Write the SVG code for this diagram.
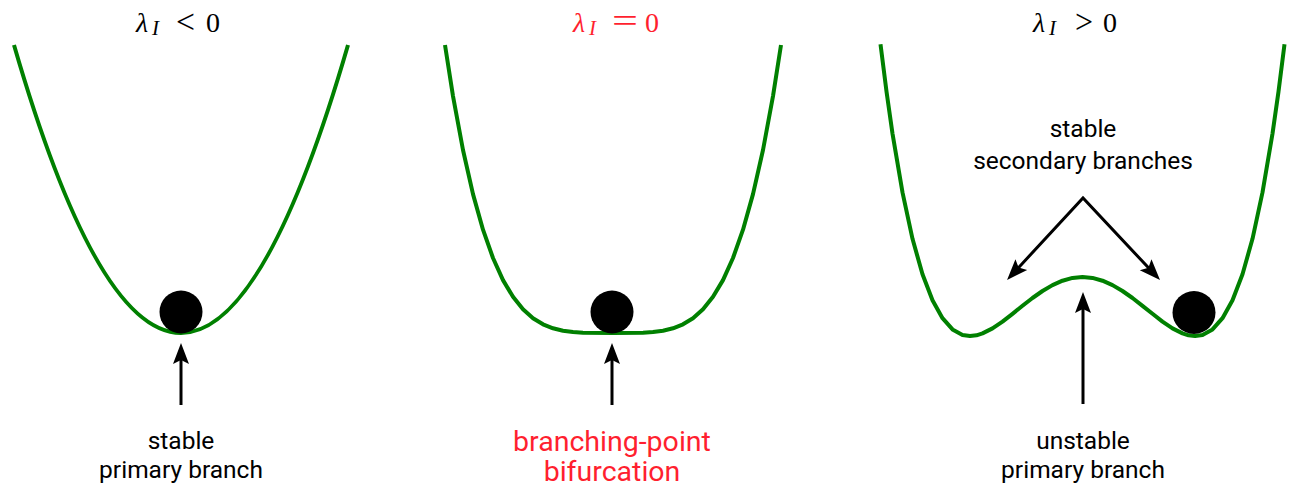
<svg xmlns="http://www.w3.org/2000/svg" width="1290" height="490" viewBox="0 0 1290 490">
<style>
.curve{fill:none;stroke:#008000;stroke-width:4;stroke-linejoin:round;stroke-linecap:butt}
.ball{fill:#000}
.arr{fill:none;stroke:#000;stroke-width:3;marker-end:url(#ah)}
.lbl{font-family:Roboto,"Open Sans",sans-serif;font-size:24.5px;fill:#000;text-anchor:middle}
.red{fill:#ff1f2f;font-size:28.5px}
.ttl{font-family:"Liberation Serif","DejaVu Serif",serif;font-size:28px;fill:#000}
.it{font-style:italic}
.sub{font-style:italic;font-size:21px}
.rel{font-size:34px}
.ttl.r{fill:#ff1f2f}
</style>
<defs>
<marker id="ah" markerUnits="userSpaceOnUse" viewBox="-10 -9 23 18" refX="0" refY="0" markerWidth="23" markerHeight="18" orient="auto-start-reverse">
<path d="M12,0 L-9,-8 L-5,0 L-9,8 Z" fill="#000"/>
</marker>
</defs>
<rect width="1290" height="490" fill="#fff"/>

<g id="panel1">
<text class="ttl it" x="136" y="32">λ</text>
<text class="ttl sub" x="152" y="35">I</text>
<text class="ttl rel" x="176" y="33" textLength="19" lengthAdjust="spacingAndGlyphs">&lt;</text>
<text class="ttl" x="206" y="32">0</text>
<path class="curve" d="M14,45 Q181,621 348,45"/>
<circle class="ball" cx="181" cy="312" r="21.5"/>
<text class="lbl" x="181" y="449">stable</text>
<text class="lbl" x="181" y="478">primary branch</text>
</g>

<g id="panel2">
<text class="ttl r it" x="573" y="32">λ</text>
<text class="ttl r sub" x="589" y="35">I</text>
<text class="ttl r rel" x="612" y="32" textLength="26" lengthAdjust="spacingAndGlyphs">=</text>
<text class="ttl r" x="645" y="32">0</text>
<polyline class="curve" points="445,45 453,96.1 463,150 473,194.1 483,229.7 493,258 503,280.1 513,296.8 523,309.3 533,318.2 543,324.3 553,328.3 563,330.7 573,332.1 583,332.7 613,333 643,332.7 653,332.1 663,330.7 673,328.3 683,324.3 693,318.2 703,309.3 713,296.8 723,280.1 733,258 743,229.7 753,194.1 763,150 773,96.1 781,45"/>
<circle class="ball" cx="612" cy="312" r="21.5"/>
<text class="lbl red" x="612" y="451">branching-point</text>
<text class="lbl red" x="612" y="481">bifurcation</text>
</g>

<g id="panel3">
<text class="ttl it" x="1033" y="32">λ</text>
<text class="ttl sub" x="1049" y="35">I</text>
<text class="ttl rel" x="1075" y="33" textLength="18" lengthAdjust="spacingAndGlyphs">&gt;</text>
<text class="ttl" x="1103" y="32">0</text>
<polyline class="curve" points="880.5,44.2 886.5,91.6 892.5,133.6 902.5,192.4 912.5,238.8 922.5,274.3 932.5,300.3 942.5,318.2 952.5,329.4 962.5,334.9 970,336 976.5,335.3 982.5,333.4 992.5,328.4 1002.5,321.6 1012.5,313.8 1022.5,305.8 1032.5,298 1042.5,291 1052.5,285.1 1062.5,280.7 1072.5,277.9 1082.5,277 1092.5,277.9 1102.5,280.7 1112.5,285.1 1122.5,291 1132.5,298 1142.5,305.8 1152.5,313.8 1162.5,321.6 1172.5,328.4 1182.5,333.4 1188.5,335.3 1195,336 1202.5,334.9 1212.5,329.4 1222.5,318.2 1232.5,300.3 1242.5,274.3 1252.5,238.8 1262.5,192.4 1272.5,133.6 1278.5,91.6 1284.5,44.2"/>
<circle class="ball" cx="1194" cy="312.5" r="21.5"/>
<text class="lbl" x="1083" y="137">stable</text>
<text class="lbl" x="1083" y="169">secondary branches</text>
<text class="lbl" x="1083" y="449">unstable</text>
<text class="lbl" x="1083" y="478">primary branch</text>
</g>

<g id="connectors">
<path class="arr" d="M181,405 L181,355"/>
<path class="arr" d="M612,405 L612,355"/>
<path class="arr" d="M1083,404 L1083,304"/>
<path class="arr" style="marker-start:url(#ah);stroke-linejoin:miter" d="M1015.2,271.2 L1083,198 L1151.8,271.3"/>
</g>
</svg>
